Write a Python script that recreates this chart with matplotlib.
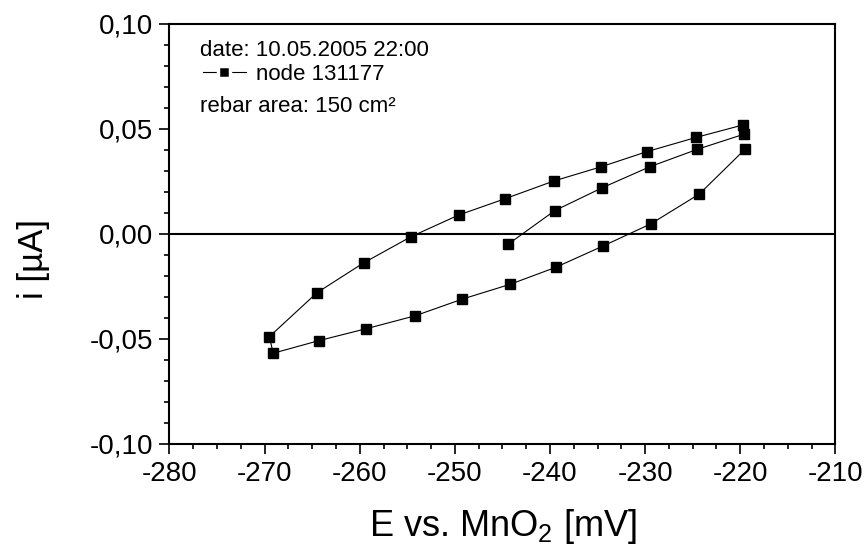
import matplotlib
matplotlib.use('Agg')
import matplotlib.pyplot as plt
from matplotlib.ticker import MultipleLocator, FuncFormatter

plt.rcParams['font.family'] = ['Liberation Sans', 'DejaVu Sans']
plt.rcParams['mathtext.fontset'] = 'custom'
plt.rcParams['mathtext.rm'] = 'Liberation Sans'
plt.rcParams['mathtext.it'] = 'Liberation Sans'

# potential sweep [mV] and current [uA], in measuring order
E_mid = [-244.4, -239.5, -234.5, -229.5, -224.5, -219.6]
I_mid = [-0.0049, 0.0111, 0.0220, 0.0320, 0.0403, 0.0475]

E_top = [-219.7, -224.6, -229.8, -234.6, -239.6, -244.7, -249.6, -254.6,
         -259.6, -264.5, -269.5]
I_top = [0.0519, 0.0460, 0.0392, 0.0320, 0.0252, 0.0168, 0.0090, -0.0013,
         -0.0138, -0.0280, -0.0489]

E_bot = [-269.1, -264.3, -259.3, -254.2, -249.2, -244.2, -239.4, -234.4,
         -229.4, -224.3, -219.5]
I_bot = [-0.0568, -0.0508, -0.0451, -0.0390, -0.0310, -0.0240, -0.0159,
         -0.0057, 0.0048, 0.0190, 0.0403]

E = E_mid + E_top + E_bot
I = I_mid + I_top + I_bot

fig = plt.figure(figsize=(8.67, 5.52), dpi=100)
ax = fig.add_axes([0.1955, 0.1957, 0.768, 0.761])

ax.axhline(0, color='black', lw=1.5, zorder=1)
ax.plot(E, I, color='black', lw=0.8, marker='s', markersize=7.5,
        markerfacecolor='black', markeredgecolor='black', label='node 131177',
        zorder=3)

ax.set_xlim(-280, -210)
ax.set_ylim(-0.10, 0.10)
ax.xaxis.set_major_locator(MultipleLocator(10))
ax.xaxis.set_minor_locator(MultipleLocator(2.5))
ax.yaxis.set_major_locator(MultipleLocator(0.05))
ax.yaxis.set_minor_locator(MultipleLocator(0.01))
ax.xaxis.set_major_formatter(FuncFormatter(lambda v, p: f"{v:.0f}"))
ax.yaxis.set_major_formatter(FuncFormatter(lambda v, p: f"{v:.2f}".replace('.', ',')))

ax.tick_params(which='both', direction='out', top=False, right=False, width=1.2)
ax.tick_params(which='major', length=7, labelsize=20, pad=5)
ax.tick_params(which='minor', length=3.5)
for s in ax.spines.values():
    s.set_linewidth(1.5)

ax.set_xlabel(r'E vs. MnO$_2$ [mV]', fontsize=26)
ax.set_ylabel('i [µA]', fontsize=25)
ax.xaxis.set_label_coords(0.5, -0.15)
ax.yaxis.set_label_coords(-0.18, 0.44)

# legend block
ax.text(0.046, 0.924, 'date: 10.05.2005 22:00', transform=ax.transAxes,
        fontsize=16, va='baseline')
ax.text(0.046, 0.791, 'rebar area: 150 cm²', transform=ax.transAxes,
        fontsize=16, va='baseline')
leg = ax.legend(loc='center left', bbox_to_anchor=(0.05, 0.879), frameon=False,
                fontsize=16, borderpad=0, borderaxespad=0, handlelength=1.95,
                handletextpad=0.45, numpoints=1, markerscale=1.1)
h = leg.legend_handles[0]
h.set_markeredgecolor('white')
h.set_markeredgewidth(2.5)

fig.savefig('out.png', dpi=100)
